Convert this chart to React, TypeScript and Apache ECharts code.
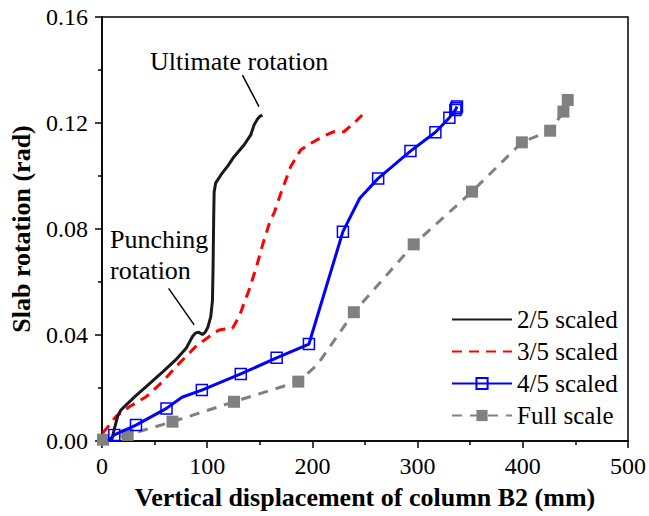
import React, { useEffect, useRef } from "react";
import * as echarts from "echarts";

const seriesNames = ["2/5 scaled", "3/5 scaled", "4/5 scaled", "Full scale"];

const scaled25: [number, number][] = [
  [9, 0], [12, 0.005], [15, 0.0095], [18, 0.0117], [24, 0.014], [32, 0.017], [42, 0.0205],
  [58, 0.0262], [70, 0.0306], [80, 0.035], [86, 0.0394], [89, 0.0408], [92, 0.041],
  [95.5, 0.0402], [98, 0.041], [100.5, 0.0428], [103.4, 0.0469], [105, 0.053], [105.6, 0.066],
  [106.2, 0.085], [106.6, 0.094], [108, 0.0973], [113, 0.1004], [120, 0.104], [125.5, 0.1073],
  [135, 0.1117], [141.4, 0.1155], [144.5, 0.1192], [147.7, 0.1214], [150, 0.1225], [152.5, 0.123],
];

const scaled35: [number, number][] = [
  [0.6, 0.003], [5, 0.005], [13, 0.0092], [26, 0.0129], [42, 0.0167], [57.6, 0.0224],
  [73.4, 0.0293], [89, 0.0356], [101.8, 0.0394], [111.3, 0.0419], [118, 0.0423], [124, 0.0425],
  [130.3, 0.0469], [139.8, 0.057], [147, 0.066], [153, 0.0745], [159, 0.082], [164, 0.0865],
  [170, 0.0935], [179.3, 0.1035], [188.8, 0.1098], [198.3, 0.1123], [211, 0.1151],
  [220.4, 0.1167], [229.9, 0.1167], [239.4, 0.1199], [247.3, 0.123],
];

// [x, y, hasMarker]
const scaled45: [number, number, number][] = [
  [6, 0, 0], [11.7, 0.0023, 1], [32.3, 0.006, 1], [61.3, 0.0123, 1], [76, 0.0165, 0],
  [94.9, 0.0192, 1], [131.9, 0.0253, 1], [166, 0.0314, 1], [196.7, 0.0366, 1], [229, 0.079, 1],
  [245, 0.0916, 0], [262.5, 0.0991, 1], [293.2, 0.1094, 1], [316.9, 0.1165, 1],
  [330.2, 0.122, 1], [335.9, 0.1249, 1], [336.8, 0.1256, 1], [337.4, 0.1262, 1],
];

const fullScale: [number, number, number][] = [
  [1, 0.0005, 1], [24.4, 0.0023, 1], [67, 0.0073, 1], [125.5, 0.0148, 1], [186.6, 0.0224, 1],
  [204.6, 0.0287, 0], [239.4, 0.0486, 1], [296.3, 0.0742, 1], [351.7, 0.0941, 1],
  [399.1, 0.1127, 1], [426, 0.1171, 1], [438.6, 0.1243, 1], [442.7, 0.1287, 1],
];

// annotation arrows, in data coordinates: [x0, y0, x1, y1]
const arrows: [number, number, number, number][] = [
  [133.5, 0.1381, 149.2, 0.1262],
  [63.3, 0.0576, 87.6, 0.0438],
];

const FONT = "Liberation Serif, Times New Roman, serif";

export default function App() {
  const ref = useRef<HTMLDivElement>(null);
  useEffect(() => {
    if (!ref.current) return;
    const chart = echarts.init(ref.current, null, { renderer: "svg" });
    const withMarkers = (arr: [number, number, number][]) =>
      arr.map(([x, y, m]) => (m ? [x, y] : { value: [x, y], symbol: "none" }));
    chart.setOption({
      animation: false,
      backgroundColor: "#fff",
      textStyle: { fontFamily: FONT, color: "#000" },
      grid: {
        left: 101, right: 21, top: 17, bottom: 75,
        show: true, borderColor: "#000", borderWidth: 1.5, backgroundColor: "transparent",
      },
      legend: {
        orient: "vertical",
        left: 446,
        top: 302,
        itemWidth: 60,
        itemHeight: 14,
        itemGap: 7,
        textStyle: { fontFamily: FONT, fontSize: 25, color: "#000", lineHeight: 25 },
        data: [
          { name: seriesNames[0], itemStyle: { opacity: 0 } },
          { name: seriesNames[1], itemStyle: { opacity: 0 } },
          { name: seriesNames[2] },
          { name: seriesNames[3] },
        ],
      },
      xAxis: {
        type: "value",
        min: 0, max: 500, interval: 100,
        name: "Vertical displacement of column B2 (mm)",
        nameLocation: "middle",
        nameGap: 43,
        nameTextStyle: { fontFamily: FONT, fontSize: 26, fontWeight: "bold", color: "#000" },
        axisLine: { show: true, lineStyle: { color: "#000", width: 1.5 } },
        axisTick: { show: true, inside: false, length: 7, lineStyle: { color: "#000", width: 1.5 } },
        minorTick: { show: true, splitNumber: 2, length: 4, lineStyle: { color: "#000", width: 1.5 } },
        axisLabel: { fontFamily: FONT, fontSize: 24, color: "#000", margin: 13 },
        splitLine: { show: false },
      },
      yAxis: {
        type: "value",
        min: 0, max: 0.16, interval: 0.04,
        name: "Slab rotation (rad)",
        nameLocation: "middle",
        nameGap: 68,
        nameTextStyle: { fontFamily: FONT, fontSize: 26, fontWeight: "bold", color: "#000" },
        axisLine: { show: true, lineStyle: { color: "#000", width: 1.5 } },
        axisTick: { show: true, inside: false, length: 7, lineStyle: { color: "#000", width: 1.5 } },
        minorTick: { show: true, splitNumber: 2, length: 4, lineStyle: { color: "#000", width: 1.5 } },
        axisLabel: {
          fontFamily: FONT, fontSize: 24, color: "#000", margin: 14,
          formatter: (v: number) => v.toFixed(2),
        },
        splitLine: { show: false },
      },
      graphic: [
        { type: "text", left: 150, top: 48, style: { text: "Ultimate rotation", fontFamily: FONT, fontSize: 26, fill: "#000" } },
        { type: "text", left: 110, top: 226, style: { text: "Punching", fontFamily: FONT, fontSize: 26, fill: "#000" } },
        { type: "text", left: 110, top: 257, style: { text: "rotation", fontFamily: FONT, fontSize: 26, fill: "#000" } },
      ],
      series: [
        {
          name: seriesNames[0],
          type: "line",
          data: scaled25,
          symbol: "none",
          lineStyle: { color: "#1a1a1a", width: 3 },
          itemStyle: { color: "#1a1a1a" },
          markLine: {
            silent: true,
            symbol: ["none", "arrow"],
            symbolSize: [0, 11],
            label: { show: false },
            lineStyle: { color: "#000", width: 1.5, type: "solid" },
            data: arrows.map(([x0, y0, x1, y1]) => [{ coord: [x0, y0] }, { coord: [x1, y1] }]),
          },
          z: 3,
        },
        {
          name: seriesNames[1],
          type: "line",
          data: scaled35,
          symbol: "none",
          lineStyle: { color: "#ff0000", width: 3, type: [10, 7] },
          itemStyle: { color: "#ff0000" },
          z: 2,
        },
        {
          name: seriesNames[2],
          type: "line",
          data: withMarkers(scaled45),
          symbol: "rect",
          symbolSize: 11,
          showAllSymbol: true,
          lineStyle: { color: "#0000ff", width: 3 },
          itemStyle: { color: "rgba(255,255,255,0)", borderColor: "#0000ff", borderWidth: 1.5 },
          z: 4,
        },
        {
          name: seriesNames[3],
          type: "line",
          data: withMarkers(fullScale),
          symbol: "rect",
          symbolSize: 12,
          showAllSymbol: true,
          lineStyle: { color: "#808080", width: 3, type: [10, 8] },
          itemStyle: { color: "#808080" },
          z: 1,
        },
      ],
    });
    return () => chart.dispose();
  }, []);
  return <div ref={ref} style={{ width: 649, height: 516, position: "absolute", left: 0, top: 0 }} />;
}
